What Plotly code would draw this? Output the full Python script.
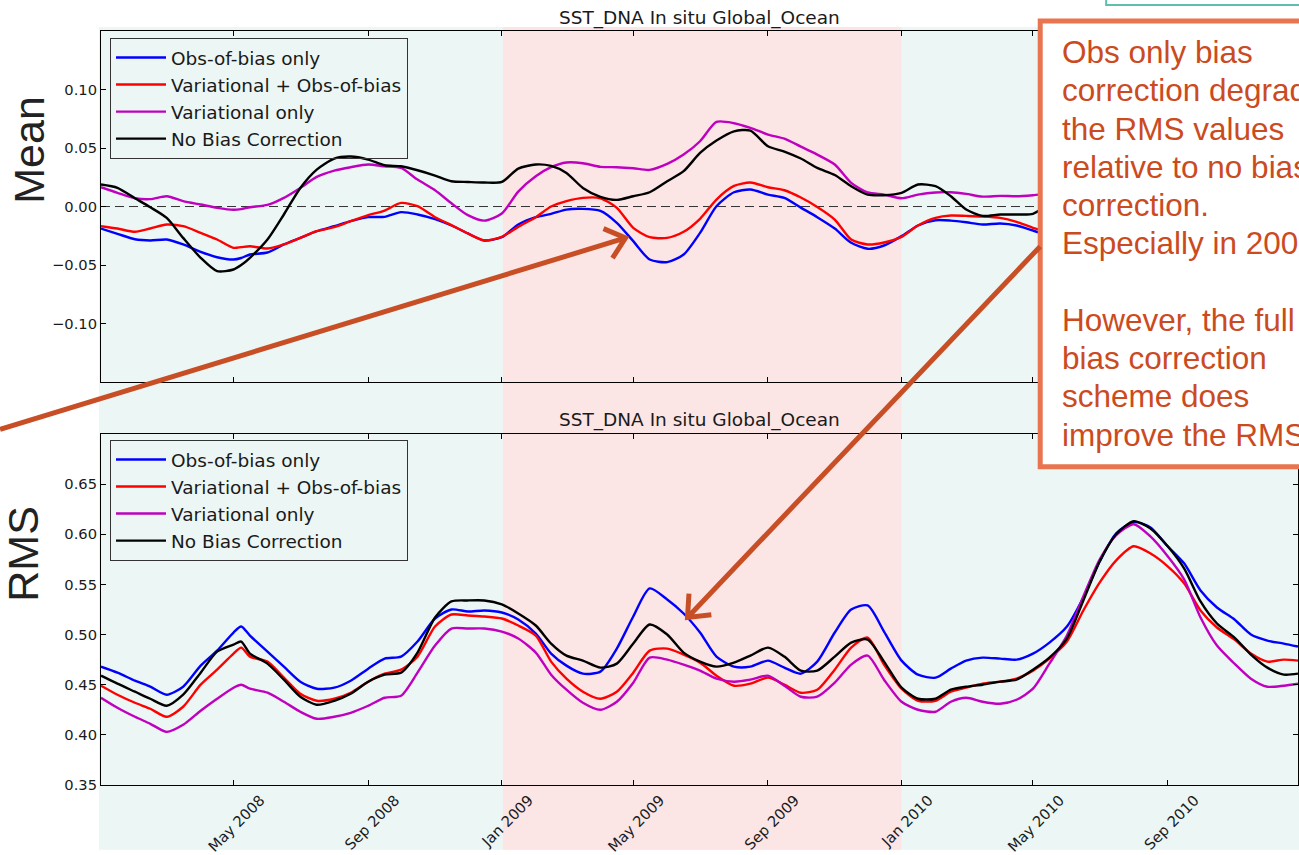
import math
import plotly.graph_objects as go

# ---------------- data ----------------
dates = [
    "2008-01-01", "2008-01-16", "2008-02-01", "2008-02-15", "2008-03-01", "2008-03-16",
    "2008-04-01", "2008-04-16", "2008-05-01", "2008-05-08", "2008-05-16", "2008-06-01",
    "2008-06-16", "2008-07-01", "2008-07-16", "2008-08-01", "2008-08-16", "2008-09-01",
    "2008-09-16", "2008-10-01", "2008-10-16", "2008-11-01", "2008-11-16", "2008-12-01",
    "2008-12-16", "2009-01-01", "2009-01-16", "2009-02-01", "2009-02-15", "2009-03-01",
    "2009-03-16", "2009-04-01", "2009-04-16", "2009-05-01", "2009-05-16", "2009-06-01",
    "2009-06-16", "2009-07-01", "2009-07-16", "2009-08-01", "2009-08-16", "2009-09-01",
    "2009-09-16", "2009-10-01", "2009-10-16", "2009-11-01", "2009-11-16", "2009-12-01",
    "2009-12-16", "2010-01-01", "2010-01-16", "2010-02-01", "2010-02-15", "2010-03-01",
    "2010-03-16", "2010-04-01", "2010-04-16", "2010-05-01", "2010-05-16", "2010-06-01",
    "2010-06-16", "2010-07-01", "2010-07-16", "2010-08-01", "2010-08-16", "2010-09-01",
    "2010-09-16", "2010-10-01", "2010-10-16", "2010-11-01", "2010-11-16", "2010-12-01",
    "2010-12-16", "2010-12-29",
]

mean_obs_only = [
    -0.0188, -0.0233, -0.0280, -0.0290, -0.0282, -0.0324, -0.0387, -0.0433, -0.0453, -0.0440,
    -0.0410, -0.0393, -0.0324, -0.0268, -0.0211, -0.0168, -0.0125, -0.0091, -0.0088, -0.0048,
    -0.0068, -0.0108, -0.0162, -0.0230, -0.0290, -0.0262, -0.0154, -0.0091, -0.0063, -0.0026,
    -0.0020, -0.0037, -0.0139, -0.0296, -0.0453, -0.0475, -0.0410, -0.0225, 0.0003, 0.0122,
    0.0145, 0.0102, 0.0074, -0.0009, -0.0091, -0.0188, -0.0310, -0.0361, -0.0333, -0.0253,
    -0.0162, -0.0117, -0.0120, -0.0134, -0.0154, -0.0145, -0.0162, -0.0205, -0.0250, -0.0280,
    -0.0300, -0.0270, -0.0220, -0.0180, -0.0200, -0.0240, -0.0260, -0.0250, -0.0220, -0.0200,
    -0.0190, -0.0210, -0.0220, -0.0220,
]
mean_var_obs = [
    -0.0168, -0.0188, -0.0216, -0.0188, -0.0154, -0.0168, -0.0225, -0.0282, -0.0353, -0.0347,
    -0.0339, -0.0359, -0.0324, -0.0268, -0.0211, -0.0176, -0.0125, -0.0074, -0.0034, 0.0031,
    0.0003, -0.0091, -0.0159, -0.0230, -0.0290, -0.0259, -0.0174, -0.0091, 0.0000, 0.0046,
    0.0074, 0.0071, -0.0011, -0.0182, -0.0262, -0.0268, -0.0216, -0.0105, 0.0060, 0.0176,
    0.0205, 0.0165, 0.0139, 0.0077, -0.0003, -0.0111, -0.0282, -0.0324, -0.0307, -0.0259,
    -0.0162, -0.0097, -0.0077, -0.0080, -0.0085, -0.0097, -0.0131, -0.0182, -0.0220, -0.0250,
    -0.0270, -0.0240, -0.0190, -0.0150, -0.0170, -0.0210, -0.0230, -0.0220, -0.0190, -0.0170,
    -0.0160, -0.0180, -0.0190, -0.0190,
]
mean_var_only = [
    0.0165, 0.0117, 0.0071, 0.0063, 0.0088, 0.0046, 0.0017, -0.0011, -0.0028, -0.0022,
    -0.0006, 0.0014, 0.0074, 0.0159, 0.0253, 0.0307, 0.0336, 0.0359, 0.0344, 0.0330,
    0.0230, 0.0139, 0.0028, -0.0074, -0.0120, -0.0060, 0.0128, 0.0259, 0.0336, 0.0376,
    0.0370, 0.0339, 0.0336, 0.0327, 0.0313, 0.0364, 0.0444, 0.0558, 0.0723, 0.0712,
    0.0672, 0.0615, 0.0580, 0.0512, 0.0444, 0.0359, 0.0202, 0.0120, 0.0102, 0.0071,
    0.0102, 0.0120, 0.0122, 0.0108, 0.0085, 0.0091, 0.0088, 0.0097, 0.0110, 0.0120,
    0.0130, 0.0140, 0.0120, 0.0100, 0.0090, 0.0080, 0.0090, 0.0100, 0.0110, 0.0120,
    0.0110, 0.0100, 0.0100, 0.0100,
]
mean_no_bc = [
    0.0188, 0.0160, 0.0071, -0.0006, -0.0097, -0.0268, -0.0438, -0.0552, -0.0538, -0.0500,
    -0.0438, -0.0282, -0.0068, 0.0159, 0.0316, 0.0410, 0.0427, 0.0401, 0.0353, 0.0344,
    0.0310, 0.0265, 0.0216, 0.0210, 0.0205, 0.0210, 0.0324, 0.0359, 0.0347, 0.0287,
    0.0159, 0.0083, 0.0057, 0.0088, 0.0122, 0.0216, 0.0302, 0.0458, 0.0564, 0.0643,
    0.0649, 0.0515, 0.0470, 0.0410, 0.0330, 0.0270, 0.0174, 0.0102, 0.0097, 0.0117,
    0.0188, 0.0174, 0.0088, -0.0026, -0.0080, -0.0068, -0.0068, -0.0063, 0.0020, 0.0060,
    0.0080, 0.0050, 0.0010, -0.0020, 0.0000, 0.0030, 0.0060, 0.0080, 0.0070, 0.0040,
    0.0020, 0.0010, 0.0020, 0.0030,
]

rms_obs_only = [
    0.468, 0.462, 0.454, 0.448, 0.440, 0.448, 0.469, 0.484, 0.502, 0.508,
    0.499, 0.483, 0.468, 0.453, 0.446, 0.447, 0.454, 0.466, 0.476, 0.478,
    0.493, 0.516, 0.525, 0.523, 0.524, 0.522, 0.515, 0.501, 0.481, 0.469,
    0.461, 0.463, 0.486, 0.518, 0.546, 0.535, 0.521, 0.502, 0.478, 0.468,
    0.468, 0.474, 0.467, 0.461, 0.473, 0.502, 0.525, 0.529, 0.503, 0.474,
    0.460, 0.457, 0.466, 0.474, 0.477, 0.476, 0.475, 0.481, 0.492, 0.508,
    0.537, 0.573, 0.601, 0.612, 0.607, 0.588, 0.571, 0.544, 0.527, 0.515,
    0.500, 0.494, 0.491, 0.488,
]
rms_var_obs = [
    0.449, 0.440, 0.432, 0.426, 0.418, 0.428, 0.450, 0.465, 0.481, 0.487,
    0.478, 0.473, 0.457, 0.441, 0.434, 0.436, 0.442, 0.453, 0.461, 0.465,
    0.478, 0.508, 0.520, 0.519, 0.518, 0.516, 0.509, 0.499, 0.473, 0.456,
    0.443, 0.436, 0.443, 0.462, 0.484, 0.486, 0.480, 0.472, 0.459, 0.449,
    0.451, 0.457, 0.450, 0.442, 0.445, 0.465, 0.487, 0.497, 0.470, 0.446,
    0.434, 0.434, 0.443, 0.447, 0.451, 0.453, 0.456, 0.464, 0.476, 0.493,
    0.524, 0.552, 0.574, 0.588, 0.581, 0.568, 0.551, 0.524, 0.507, 0.495,
    0.481, 0.473, 0.475, 0.474,
]
rms_var_only = [
    0.437, 0.427, 0.418, 0.411, 0.403, 0.410, 0.424, 0.436, 0.447, 0.450,
    0.446, 0.442, 0.433, 0.423, 0.416, 0.418, 0.422, 0.429, 0.437, 0.439,
    0.462, 0.489, 0.506, 0.506, 0.506, 0.503, 0.496, 0.482, 0.460, 0.445,
    0.432, 0.425, 0.433, 0.452, 0.477, 0.475, 0.470, 0.464, 0.456, 0.453,
    0.455, 0.459, 0.449, 0.438, 0.438, 0.452, 0.470, 0.479, 0.455, 0.433,
    0.425, 0.423, 0.433, 0.437, 0.433, 0.431, 0.435, 0.446, 0.471, 0.499,
    0.538, 0.575, 0.599, 0.610, 0.598, 0.578, 0.555, 0.517, 0.489, 0.471,
    0.456, 0.448, 0.449, 0.451,
]
rms_no_bc = [
    0.459, 0.451, 0.443, 0.436, 0.429, 0.440, 0.462, 0.483, 0.490, 0.493,
    0.481, 0.471, 0.455, 0.438, 0.430, 0.434, 0.441, 0.453, 0.460, 0.462,
    0.482, 0.517, 0.533, 0.534, 0.534, 0.530, 0.521, 0.509, 0.491, 0.479,
    0.474, 0.467, 0.471, 0.491, 0.510, 0.500, 0.482, 0.473, 0.468, 0.472,
    0.479, 0.487, 0.478, 0.464, 0.464, 0.478, 0.492, 0.495, 0.473, 0.447,
    0.436, 0.436, 0.445, 0.448, 0.450, 0.453, 0.455, 0.465, 0.477, 0.496,
    0.534, 0.573, 0.600, 0.613, 0.606, 0.588, 0.566, 0.533, 0.511, 0.497,
    0.480, 0.467, 0.460, 0.461,
]

series_names = ["Obs-of-bias only", "Variational + Obs-of-bias", "Variational only", "No Bias Correction"]
series_colors = ["#0000FF", "#FF0000", "#BF00BF", "#000000"]
mean_series = [mean_obs_only, mean_var_obs, mean_var_only, mean_no_bc]
rms_series = [rms_obs_only, rms_var_obs, rms_var_only, rms_no_bc]

x_tick_dates = ["2008-05-01", "2008-09-01", "2009-01-01", "2009-05-01",
                "2009-09-01", "2010-01-01", "2010-05-01", "2010-09-01"]
x_tick_labels = ["May 2008", "Sep 2008", "Jan 2009", "May 2009",
                 "Sep 2009", "Jan 2010", "May 2010", "Sep 2010"]
mean_ticks = [-0.10, -0.05, 0.00, 0.05, 0.10]
mean_tick_labels = ["\u22120.10", "\u22120.05", "0.00", "0.05", "0.10"]
rms_ticks = [0.35, 0.40, 0.45, 0.50, 0.55, 0.60, 0.65]
rms_tick_labels = ["0.35", "0.40", "0.45", "0.50", "0.55", "0.60", "0.65"]

panel_title = "SST_DNA In situ Global_Ocean"
note_lines = [
    "Obs only bias", "correction degrades", "the RMS values", "relative to no bias",
    "correction.", "Especially in 2009", "", "However, the full", "bias correction",
    "scheme does", "improve the RMS",
]

# ---------------- layout geometry ----------------
W, H = 1299, 855
ML, MR, MT, MB = 101, 0, 31, 68
PW = W - ML - MR
PH = H - MT - MB


def px(x):
    return (x - ML) / PW


def py(y):
    return (H - MB - y) / PH


TEAL = "#ECF6F4"
PINK = "#FCE5E5"
ARROW = "#C84F25"
BOX_LINE = "#E8754F"
NOTE_TXT = "#CB4B1E"
TXT = "#1a1a1a"
FONT = "DejaVu Sans"

fig = go.Figure()

for name, color, vals in zip(series_names, series_colors, mean_series):
    fig.add_trace(go.Scatter(
        x=dates, y=vals, name=name, mode="lines",
        line=dict(color=color, width=2.4, shape="spline", smoothing=0.7),
        xaxis="x", yaxis="y", legend="legend",
    ))
for name, color, vals in zip(series_names, series_colors, rms_series):
    fig.add_trace(go.Scatter(
        x=dates, y=vals, name=name, mode="lines",
        line=dict(color=color, width=2.4, shape="spline", smoothing=0.7),
        xaxis="x2", yaxis="y2", legend="legend2",
    ))

x_common = dict(
    type="date", range=["2008-01-01", "2010-12-29"], domain=[0, 1],
    showline=True, linecolor="black", linewidth=1, mirror="ticks",
    ticks="inside", ticklen=5, tickcolor="black",
    tickvals=x_tick_dates, ticktext=x_tick_labels,
    showgrid=False, zeroline=False,
)
y_common = dict(
    showline=True, linecolor="black", linewidth=1, mirror="ticks",
    ticks="inside", ticklen=5, tickcolor="black",
    showgrid=False, zeroline=False,
    tickfont=dict(family=FONT, size=14.7, color=TXT),
)

legend_common = dict(
    xanchor="left", yanchor="top", bgcolor="rgba(0,0,0,0)",
    bordercolor="#333333", borderwidth=1,
    font=dict(family=FONT, size=18.5, color=TXT), itemwidth=50,
)

fig.update_layout(
    width=W, height=H, autosize=False,
    margin=dict(l=ML, r=MR, t=MT, b=MB, pad=0),
    paper_bgcolor="white", plot_bgcolor="rgba(0,0,0,0)",
    xaxis=dict(x_common, anchor="y", showticklabels=False),
    xaxis2=dict(x_common, anchor="y2", matches="x", showticklabels=True,
                tickangle=-45, ticklabelshift=27,
                tickfont=dict(family=FONT, size=14.7, color=TXT)),
    yaxis=dict(y_common, domain=[py(383), py(31)], range=[-0.15, 0.15],
               tickvals=mean_ticks, ticktext=mean_tick_labels, anchor="x"),
    yaxis2=dict(y_common, domain=[py(787), py(435)], range=[0.35, 0.70],
                tickvals=rms_ticks, ticktext=rms_tick_labels, anchor="x2"),
    legend=dict(legend_common, x=px(110), y=py(38)),
    legend2=dict(legend_common, x=px(110), y=py(441)),
    showlegend=True,
)

# background overlay (slide tint) and 2009 highlight
shapes = [
    dict(type="rect", xref="paper", yref="paper", x0=px(99), x1=1.05, y0=py(852), y1=py(27),
         fillcolor=TEAL, line=dict(width=0), layer="below"),
    dict(type="rect", xref="x", yref="paper", x0="2009-01-02", x1="2010-01-01",
         y0=py(852), y1=py(27), fillcolor=PINK, line=dict(width=0), layer="below"),
    dict(type="line", xref="paper", yref="y", x0=0, x1=1, y0=0, y1=0,
         line=dict(color="#333333", width=1, dash="9px,5px"), layer="below"),
    # note box
    dict(type="rect", xref="paper", yref="paper", x0=px(1041), x1=px(1320), y0=py(468), y1=py(21),
         fillcolor="white", line=dict(color=BOX_LINE, width=5), layer="above"),
    # fragment of another slide box at top right
    dict(type="rect", xref="paper", yref="paper", x0=px(1107), x1=px(1330), y0=py(5), y1=py(-20),
         fillcolor="rgba(0,0,0,0)", line=dict(color="#5DBFAD", width=2), layer="above"),
]


def arrow_path(x0, y0, x1, y1, head=24, ang=40):
    dx, dy = x1 - x0, y1 - y0
    L = math.hypot(dx, dy)
    bx, by = -dx / L, -dy / L
    c, s = math.cos(math.radians(ang)), math.sin(math.radians(ang))
    a1 = (x1 + head * (bx * c - by * s), y1 + head * (bx * s + by * c))
    a2 = (x1 + head * (bx * c + by * s), y1 + head * (-bx * s + by * c))
    p = lambda pt: f"{px(pt[0]):.5f},{py(pt[1]):.5f}"
    return (f"M {p((x0, y0))} L {p((x1, y1))} "
            f"M {p(a1)} L {p((x1, y1))} L {p(a2)}")


for (sx, sy, tx, ty) in [(0, 430.5, 626, 238.5), (1041, 247, 688, 619)]:
    shapes.append(dict(type="path", xref="paper", yref="paper",
                       path=arrow_path(sx, sy, tx, ty),
                       line=dict(color=ARROW, width=5), layer="above"))

fig.update_layout(shapes=shapes)

annotations = [
    dict(text=panel_title, xref="paper", yref="paper", x=0.5, y=py(18),
         xanchor="center", yanchor="middle", showarrow=False,
         font=dict(family=FONT, size=18.5, color=TXT)),
    dict(text=panel_title, xref="paper", yref="paper", x=0.5, y=py(421),
         xanchor="center", yanchor="middle", showarrow=False,
         font=dict(family=FONT, size=18.5, color=TXT)),
    dict(text="Mean", xref="paper", yref="paper", x=px(29), y=py(150),
         xanchor="center", yanchor="middle", showarrow=False, textangle=-90,
         font=dict(family="Liberation Sans", size=43, color="#222222")),
    dict(text="RMS", xref="paper", yref="paper", x=px(23), y=py(555),
         xanchor="center", yanchor="middle", showarrow=False, textangle=-90,
         font=dict(family="Liberation Sans", size=43, color="#222222")),
]
for i, line in enumerate(note_lines):
    if not line:
        continue
    baseline = 63.3 + 38.35 * i
    annotations.append(dict(
        text=line, xref="paper", yref="paper", x=px(1061), y=py(baseline - 11),
        xanchor="left", yanchor="middle", showarrow=False,
        font=dict(family="Liberation Sans", size=31.5, color=NOTE_TXT)))

fig.update_layout(annotations=annotations)

fig.write_html(
    "out.html",
    config={"displayModeBar": False},
    post_script="document.body.style.margin='0';document.body.style.overflow='hidden';",
)
